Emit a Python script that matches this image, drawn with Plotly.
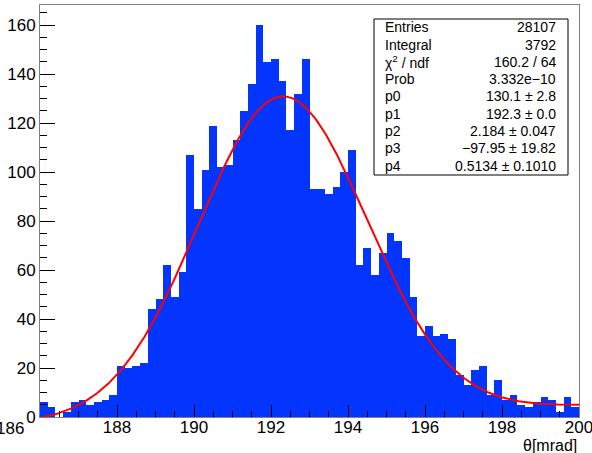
import numpy as np
import plotly.graph_objects as go

# ---- data ----
x_min = 186.0
x_max = 200.0
bin_width = 0.2
counts = [6, 4, 0, 2, 6, 7, 5, 6, 7, 9,
          21, 20, 21, 22, 44, 48, 62, 49, 59, 107,
          85, 101, 119, 102, 103, 113, 125, 136, 160, 145,
          146, 137, 117, 132, 146, 93, 93, 91, 94, 100,
          109, 62, 69, 58, 67, 75, 72, 65, 49, 33,
          37, 33, 34, 32, 17, 13, 19, 21, 9, 15,
          7, 9, 5, 4, 6, 8, 7, 2, 8, 4]
fit_params = [130.1, 192.3, 2.184, -97.95, 0.5134]  # gaus(0) + pol1(3)

stat_labels = ["Entries", "Integral", "χ<sup>2</sup> / ndf", "Prob",
               "p0", "p1", "p2", "p3", "p4"]
stat_values = ["28107", "3792", "160.2 / 64", "3.332e−10",
               "130.1 ± 2.8", "192.3 ± 0.0", "2.184 ± 0.047",
               "−97.95 ± 19.82", "0.5134 ± 0.1010"]

x_tickvals = [188, 190, 192, 194, 196, 198, 200]
y_tickvals = [0, 20, 40, 60, 80, 100, 120, 140, 160]
x_title = "θ[mrad]"

# ---- figure ----
W, H = 592, 453
ML, MR, MT, MB = 40, 13, 5, 36
PW, PH = W - ML - MR, H - MT - MB

def px(x):
    return (x - ML) / PW

def py(y):
    return (H - MB - y) / PH

FONT = "Liberation Sans, Arial, Helvetica, sans-serif"
TFS = 17

centers = [x_min + bin_width * (i + 0.5) for i in range(len(counts))]

xf = np.linspace(x_min, x_max, 600)
p0, p1, p2, p3, p4 = fit_params
yf = p0 * np.exp(-0.5 * ((xf - p1) / p2) ** 2) + p3 + p4 * xf

fig = go.Figure()
fig.add_trace(go.Bar(x=centers, y=counts, width=bin_width,
                     marker=dict(color="#0335ff", line=dict(width=0)),
                     hoverinfo="skip"))
fig.add_trace(go.Scatter(x=xf, y=yf, mode="lines",
                         line=dict(color="#ff0000", width=2),
                         hoverinfo="skip"))

fig.update_layout(
    width=W, height=H, autosize=False,
    margin=dict(l=ML, r=MR, t=MT, b=MB, pad=0, autoexpand=False),
    paper_bgcolor="white", plot_bgcolor="white",
    showlegend=False, bargap=0,
    font=dict(family=FONT, size=TFS, color="black"),
)
fig.update_xaxes(
    range=[x_min, x_max], tickvals=x_tickvals,
    ticks="inside", ticklen=12, tickwidth=1, tickcolor="black",
    showline=True, linecolor="#808080", linewidth=1, mirror=True,
    showgrid=False, zeroline=False, automargin=False,
    ticklabeloverflow="allow", ticklabelstandoff=-5,
    tickfont=dict(family=FONT, size=TFS, color="black"),
    minor=dict(dtick=0.5, tick0=186, ticks="inside", ticklen=6,
               tickcolor="black", showgrid=False),
)
fig.update_yaxes(
    range=[0, 168.2], tickvals=y_tickvals,
    ticks="inside", ticklen=15, tickwidth=1, tickcolor="black",
    showline=True, linecolor="#808080", linewidth=1, mirror=True,
    showgrid=False, zeroline=False, automargin=False,
    ticklabeloverflow="allow",
    tickfont=dict(family=FONT, size=TFS, color="black"),
    minor=dict(dtick=5, tick0=0, ticks="inside", ticklen=7,
               tickcolor="black", showgrid=False),
)

# first x label (shifted left as in the reference)
fig.add_annotation(text="186", xref="paper", yref="paper",
                   x=px(25.5), y=py(428.5), xanchor="right", yanchor="middle",
                   showarrow=False, font=dict(family=FONT, size=TFS))

# axis title
fig.add_annotation(text=x_title, xref="paper", yref="paper",
                   x=px(579), y=py(445), xanchor="right", yanchor="middle",
                   showarrow=False, font=dict(family=FONT, size=16))

# stats box
fig.add_shape(type="rect", xref="paper", yref="paper",
              x0=px(374), x1=px(568), y0=py(175), y1=py(19),
              line=dict(color="black", width=1), fillcolor="white",
              layer="above")
for i, (lab, val) in enumerate(zip(stat_labels, stat_values)):
    yc = 27.3 + 17.3 * i
    fig.add_annotation(text=lab, xref="paper", yref="paper",
                       x=px(382.5), y=py(yc), xanchor="left", yanchor="middle",
                       showarrow=False, font=dict(family=FONT, size=14))
    fig.add_annotation(text=val, xref="paper", yref="paper",
                       x=px(558), y=py(yc), xanchor="right", yanchor="middle",
                       showarrow=False, font=dict(family=FONT, size=14))

fig.write_html("out.html")
